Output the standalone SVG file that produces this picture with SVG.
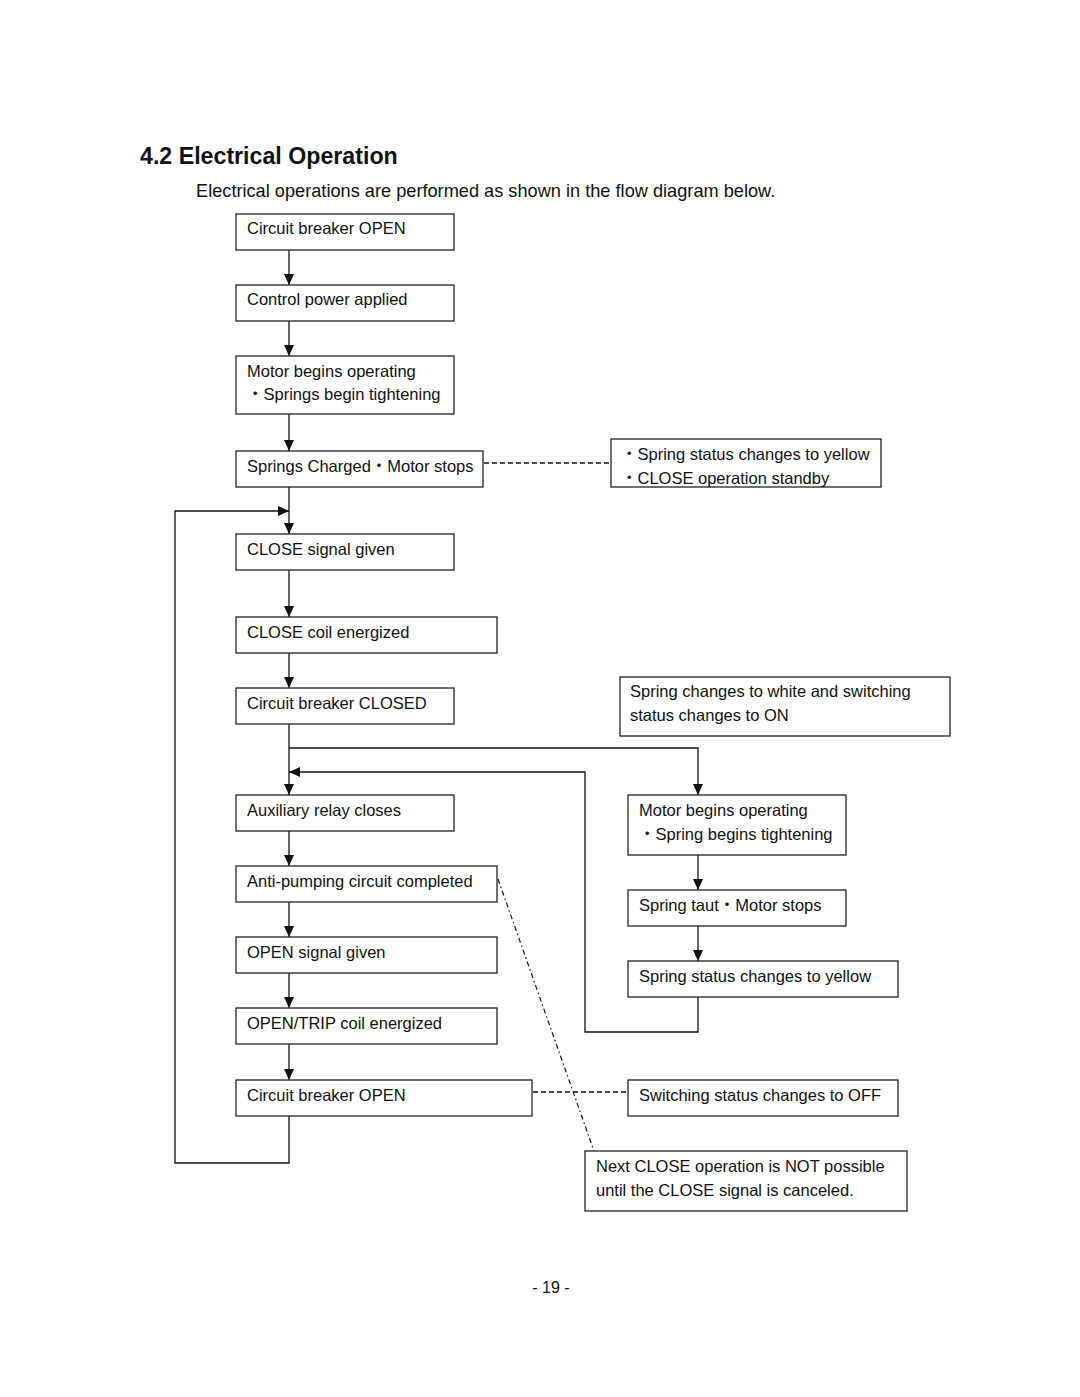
<svg xmlns="http://www.w3.org/2000/svg" width="1080" height="1397" viewBox="0 0 1080 1397">
<style>
.box{fill:#fff;stroke:#222;stroke-width:1.3}
.t{font-family:"Liberation Sans","Noto Sans CJK JP",Arial,sans-serif;font-size:16.5px;fill:#111}
.ln{fill:none;stroke:#111;stroke-width:1.3}
.dash{fill:none;stroke:#111;stroke-width:1.3;stroke-dasharray:5 3}
.dd{fill:none;stroke:#111;stroke-width:1.2;stroke-dasharray:5 3 1.5 3}
</style>
<defs>
<marker id="ah" markerUnits="userSpaceOnUse" markerWidth="12" markerHeight="11" refX="11" refY="5" orient="auto">
<path d="M0,0 L11,5 L0,10 z" fill="#111"/>
</marker>
</defs>
<rect width="1080" height="1397" fill="#fff"/>
<text x="140" y="164" style="font-family:'Liberation Sans',Arial,sans-serif;font-size:23.2px;font-weight:bold;fill:#111">4.2 Electrical Operation</text>
<text x="196" y="197" style="font-family:'Liberation Sans',Arial,sans-serif;font-size:18.2px;fill:#111">Electrical operations are performed as shown in the flow diagram below.</text>

<g id="connectors">
<path class="ln" d="M289,250 V285" marker-end="url(#ah)"/>
<path class="ln" d="M289,321 V356" marker-end="url(#ah)"/>
<path class="ln" d="M289,414 V451" marker-end="url(#ah)"/>
<path class="ln" d="M289,487 V534" marker-end="url(#ah)"/>
<path class="ln" d="M289,1116 V1163 H175 V511 H289" marker-end="url(#ah)"/>
<path class="ln" d="M289,570 V617" marker-end="url(#ah)"/>
<path class="ln" d="M289,653 V688" marker-end="url(#ah)"/>
<path class="ln" d="M289,724 V795" marker-end="url(#ah)"/>
<path class="ln" d="M289,748 H698 V795" marker-end="url(#ah)"/>
<path class="ln" d="M698,997 V1032 H585 V772 H289" marker-end="url(#ah)"/>
<path class="ln" d="M289,831 V866" marker-end="url(#ah)"/>
<path class="ln" d="M289,902 V937" marker-end="url(#ah)"/>
<path class="ln" d="M289,973 V1008" marker-end="url(#ah)"/>
<path class="ln" d="M289,1044 V1080" marker-end="url(#ah)"/>
<path class="ln" d="M698,855 V890" marker-end="url(#ah)"/>
<path class="ln" d="M698,926 V961" marker-end="url(#ah)"/>
<path class="dash" d="M484,463 H611"/>
<path class="dash" d="M533,1092 H628"/>
<path class="dd" d="M498,879 L594,1151"/>
</g>

<g id="n1"><rect class="box" x="236" y="214" width="218" height="36"/><text class="t" x="247" y="234">Circuit breaker OPEN</text></g>
<g id="n2"><rect class="box" x="236" y="285" width="218" height="36"/><text class="t" x="247" y="305">Control power applied</text></g>
<g id="n3"><rect class="box" x="236" y="356" width="218" height="58"/><text class="t" x="247" y="377">Motor begins operating</text><text class="t" x="247" y="400">・Springs begin tightening</text></g>
<g id="n4"><rect class="box" x="236" y="451" width="247" height="36"/><text class="t" x="247" y="472">Springs Charged・Motor stops</text></g>
<g id="n5"><rect class="box" x="611" y="439" width="270" height="48"/><text class="t" x="621" y="460">・Spring status changes to yellow</text><text class="t" x="621" y="484">・CLOSE operation standby</text></g>
<g id="n6"><rect class="box" x="236" y="534" width="218" height="36"/><text class="t" x="247" y="555">CLOSE signal given</text></g>
<g id="n7"><rect class="box" x="236" y="617" width="261" height="36"/><text class="t" x="247" y="638">CLOSE coil energized</text></g>
<g id="n8"><rect class="box" x="236" y="688" width="218" height="36"/><text class="t" x="247" y="709">Circuit breaker CLOSED</text></g>
<g id="n9"><rect class="box" x="620" y="677" width="330" height="59"/><text class="t" x="630" y="697">Spring changes to white and switching</text><text class="t" x="630" y="721">status changes to ON</text></g>
<g id="n10"><rect class="box" x="236" y="795" width="218" height="36"/><text class="t" x="247" y="816">Auxiliary relay closes</text></g>
<g id="n11"><rect class="box" x="628" y="795" width="218" height="60"/><text class="t" x="639" y="816">Motor begins operating</text><text class="t" x="639" y="840">・Spring begins tightening</text></g>
<g id="n12"><rect class="box" x="236" y="866" width="261" height="36"/><text class="t" x="247" y="887">Anti-pumping circuit completed</text></g>
<g id="n13"><rect class="box" x="628" y="890" width="218" height="36"/><text class="t" x="639" y="911">Spring taut・Motor stops</text></g>
<g id="n14"><rect class="box" x="236" y="937" width="261" height="36"/><text class="t" x="247" y="958">OPEN signal given</text></g>
<g id="n15"><rect class="box" x="628" y="961" width="270" height="36"/><text class="t" x="639" y="982">Spring status changes to yellow</text></g>
<g id="n16"><rect class="box" x="236" y="1008" width="261" height="36"/><text class="t" x="247" y="1029">OPEN/TRIP coil energized</text></g>
<g id="n17"><rect class="box" x="236" y="1080" width="296" height="36"/><text class="t" x="247" y="1101">Circuit breaker OPEN</text></g>
<g id="n18"><rect class="box" x="628" y="1080" width="270" height="36"/><text class="t" x="639" y="1101">Switching status changes to OFF</text></g>
<g id="n19"><rect class="box" x="585" y="1151" width="322" height="60"/><text class="t" x="596" y="1172">Next CLOSE operation is NOT possible</text><text class="t" x="596" y="1196">until the CLOSE signal is canceled.</text></g>

<text x="551" y="1293" text-anchor="middle" style="font-family:'Liberation Sans',Arial,sans-serif;font-size:16px;fill:#111">- 19 -</text>
</svg>
